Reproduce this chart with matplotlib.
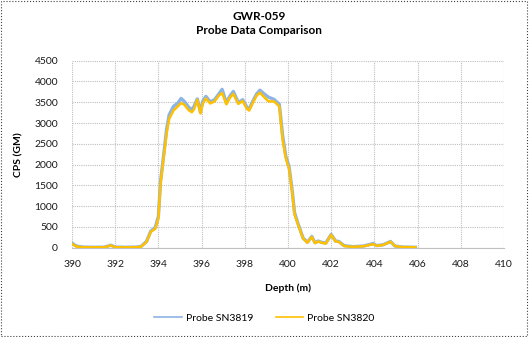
from matplotlib import pyplot as plt
from matplotlib.lines import Line2D
from matplotlib.patches import Rectangle

depth = [390.0, 390.2, 390.5, 391.0, 391.5, 391.8, 392.0, 392.5, 393.0, 393.2,
         393.45, 393.65, 393.85, 394.0, 394.1, 394.25, 394.38, 394.5, 394.7, 394.9,
         395.05, 395.2, 395.4, 395.55, 395.65, 395.8, 395.95, 396.05, 396.2, 396.4,
         396.6, 396.8, 396.95, 397.15, 397.3, 397.47, 397.7, 397.9, 398.1, 398.2,
         398.35, 398.55, 398.7, 398.9, 399.1, 399.35, 399.6, 399.75, 399.9, 400.05,
         400.2, 400.3, 400.45, 400.7, 400.9, 401.1, 401.25, 401.4, 401.55, 401.75,
         402.0, 402.2, 402.35, 402.6, 403.0, 403.5, 403.95, 404.1, 404.4, 404.75,
         404.95, 405.3, 405.9]

sn3819 = [110, 40, 15, 10, 12, 60, 15, 10, 15, 30,
          150, 400, 480, 750, 1600, 2250, 2850, 3200, 3400, 3480,
          3590, 3520, 3380, 3320, 3400, 3580, 3260, 3520, 3640, 3510,
          3560, 3700, 3810, 3480, 3640, 3760, 3490, 3560, 3380, 3330,
          3500, 3700, 3790, 3700, 3620, 3570, 3450, 2700, 2200, 1950,
          1350, 850, 600, 230, 130, 270, 120, 160, 130, 110,
          320, 160, 150, 50, 25, 40, 100, 50, 70, 150,
          40, 15, 10]

sn3820 = [90, 30, 10, 8, 10, 55, 12, 8, 12, 25,
          140, 385, 450, 700, 1550, 2200, 2750, 3100, 3300, 3400,
          3480, 3440, 3310, 3260, 3330, 3560, 3230, 3460, 3590, 3470,
          3520, 3660, 3720, 3450, 3600, 3700, 3460, 3530, 3340, 3300,
          3460, 3660, 3730, 3620, 3520, 3520, 3400, 2600, 2150, 1900,
          1300, 800, 580, 220, 120, 260, 110, 150, 120, 100,
          310, 150, 140, 40, 20, 35, 85, 45, 65, 145,
          40, 15, 10]

BLUE = "#8EB4E3"
ORANGE = "#FFC000"


def main():
    plt.rcParams["font.family"] = ["Lato", "DejaVu Sans"]
    fig = plt.figure(figsize=(5.29, 3.37), dpi=100)
    ax = fig.add_axes([0.1361, 0.265, 0.8166, 0.555])

    ax.plot(depth, sn3819, color=BLUE, lw=2.4, zorder=3)
    ax.plot(depth, sn3820, color=ORANGE, lw=1.8, zorder=4)

    ax.set_xlim(390, 410)
    ax.set_ylim(0, 4500)
    ax.set_xticks(range(390, 411, 2))
    ax.set_yticks(range(0, 4501, 500))
    ax.tick_params(length=0, labelsize=7.5, colors="#1a1a1a")
    ax.tick_params(axis="x", pad=9)
    ax.tick_params(axis="y", pad=10)
    ax.grid(True, color="#BFBFBF", linestyle=(0, (1, 1)), lw=0.8)
    for side in ["top", "right", "left"]:
        ax.spines[side].set_visible(False)
    ax.spines["bottom"].set_color("#BFBFBF")

    ax.set_xlabel("Depth (m)", fontsize=7.5, fontweight="bold", labelpad=10)
    ax.set_ylabel("CPS (GM)", fontsize=7.5, fontweight="bold", labelpad=8)
    fig.text(0.49, 0.93, "GWR-059\nProbe Data Comparison", ha="center", va="center",
             fontsize=8.5, fontweight="bold", linespacing=1.4)

    handles = [Line2D([], [], color=BLUE, lw=1.2), Line2D([], [], color=ORANGE, lw=1.2)]
    fig.legend(handles, ["Probe SN3819", "Probe SN3820"], loc="center",
               bbox_to_anchor=(0.5, 0.056), ncol=2, frameon=False,
               fontsize=7.5, handlelength=2.6, columnspacing=2.2, handletextpad=0.4)

    fig.patches.append(Rectangle((0.002, 0.003), 0.995, 0.993, transform=fig.transFigure,
                                 fill=False, edgecolor="#404040", lw=0.8, linestyle=":"))
    fig.savefig("out.png", dpi=100)


if __name__ == "__main__":
    main()
